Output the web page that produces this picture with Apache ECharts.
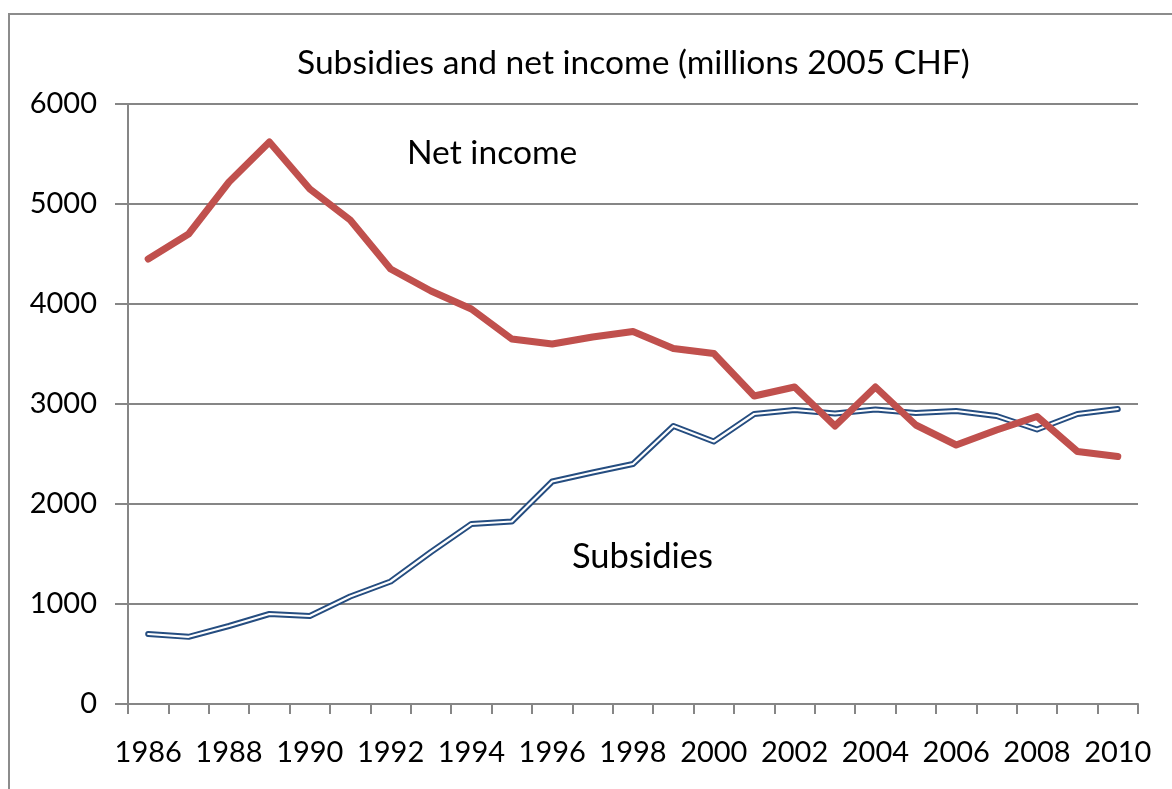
<!DOCTYPE html>
<html>
<head>
<meta charset="utf-8">
<title>Subsidies and net income</title>
<script src="https://cdn.jsdelivr.net/npm/echarts@6/dist/echarts.min.js"></script>
<style>
  html, body { margin: 0; padding: 0; background: #ffffff; }
  #chart { width: 1172px; height: 789px; }
</style>
</head>
<body>
<div id="chart"></div>
<script>
// Years on the category axis
const years = ['1986','1987','1988','1989','1990','1991','1992','1993','1994','1995',
               '1996','1997','1998','1999','2000','2001','2002','2003','2004','2005',
               '2006','2007','2008','2009','2010'];

// Net income, millions of 2005 CHF
const netIncome = [4450, 4700, 5220, 5620, 5150, 4840, 4350, 4130, 3950, 3650,
                   3600, 3670, 3725, 3555, 3505, 3080, 3170, 2780, 3170, 2790,
                   2590, 2740, 2875, 2525, 2475];

// Subsidies, millions of 2005 CHF
const subsidies = [700, 672, 780, 900, 880, 1075, 1225, 1520, 1800, 1825,
                   2225, 2315, 2400, 2780, 2625, 2900, 2940, 2905, 2945, 2910,
                   2930, 2880, 2745, 2900, 2950];

// Y axis range and step
const yMin = 0, yMax = 6000, yStep = 1000;

const FONT = 'Lato, "Open Sans", sans-serif';
const GREY = '#868686';

const chart = echarts.init(document.getElementById('chart'), null, { renderer: 'canvas' });

chart.setOption({
  backgroundColor: '#ffffff',
  animation: false,
  title: {
    text: 'Subsidies and net income (millions 2005 CHF)',
    left: 292,
    top: 41,
    textStyle: { fontFamily: FONT, fontSize: 33.6, fontWeight: 'normal', color: '#000000' }
  },
  grid: { left: 128, right: 34, top: 104, bottom: 85, containLabel: false },
  xAxis: {
    type: 'category',
    data: years,
    boundaryGap: true,
    axisLine: { show: true, lineStyle: { color: GREY, width: 2 } },
    axisTick: { show: true, interval: 0, length: 10, inside: false, lineStyle: { color: GREY, width: 2 } },
    axisLabel: { interval: 1, margin: 34, fontFamily: FONT, fontSize: 29, color: '#000000' },
    splitLine: { show: false }
  },
  yAxis: {
    type: 'value',
    min: yMin,
    max: yMax,
    interval: yStep,
    axisLine: { show: true, lineStyle: { color: GREY, width: 2 } },
    axisTick: { show: true, length: 13, inside: false, lineStyle: { color: GREY, width: 2 } },
    axisLabel: {
      margin: 31,
      fontFamily: FONT,
      fontSize: 29,
      color: '#000000',
      formatter: function (v) { return String(v); }
    },
    splitLine: { show: true, lineStyle: { color: GREY, width: 2 } }
  },
  graphic: [
    {
      // outer frame of the chart area
      type: 'rect',
      silent: true,
      z: -10,
      shape: { x: 9, y: 14, width: 1200, height: 820 },
      style: { fill: 'none', stroke: '#8c8c8c', lineWidth: 2 }
    },
    {
      type: 'text',
      left: 407,
      top: 136,
      style: { text: 'Net income', fontFamily: FONT, fontSize: 33.6, fill: '#000000' }
    },
    {
      type: 'text',
      left: 572,
      top: 539,
      style: { text: 'Subsidies', fontFamily: FONT, fontSize: 34.5, fill: '#000000' }
    }
  ],
  series: [
    {
      name: 'Subsidies',
      type: 'line',
      data: subsidies,
      symbol: 'none',
      z: 2,
      lineStyle: { color: '#254d80', width: 6, cap: 'round', join: 'round' }
    },
    {
      name: 'Subsidies inner',
      type: 'line',
      data: subsidies,
      symbol: 'none',
      z: 3,
      lineStyle: { color: '#ffffff', width: 2.2, cap: 'round', join: 'round' }
    },
    {
      name: 'Net income',
      type: 'line',
      data: netIncome,
      symbol: 'none',
      z: 4,
      lineStyle: { color: '#c0504d', width: 7, cap: 'round', join: 'round' }
    }
  ]
});
</script>
</body>
</html>
